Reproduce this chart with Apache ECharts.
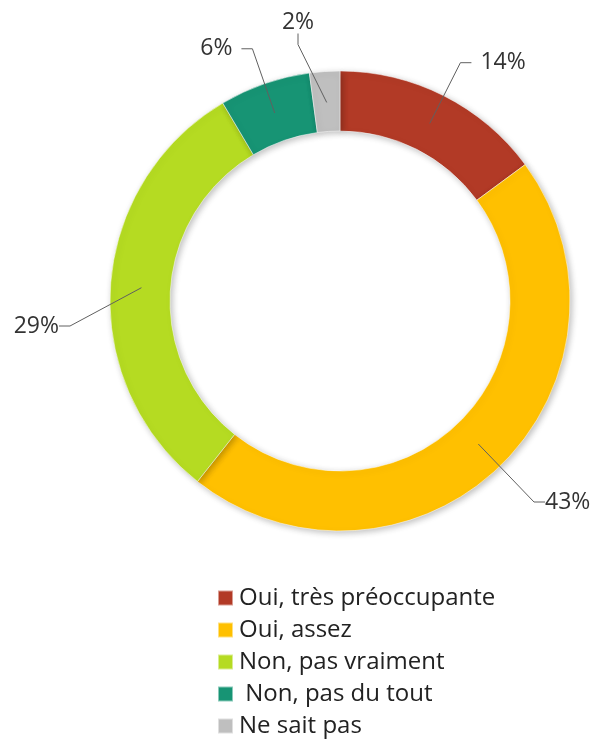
<!DOCTYPE html>
<html>
<head>
<meta charset="utf-8">
<script src="https://cdn.jsdelivr.net/npm/echarts@6/dist/echarts.min.js"></script>
<style>
  html, body { margin: 0; padding: 0; background: #fff; }
  #chart { width: 595px; height: 740px; }
</style>
</head>
<body>
<div id="chart"></div>
<script>
// answers, in chart order (clockwise from the top)
const categories = ['Oui, très préoccupante', 'Oui, assez', 'Non, pas vraiment', ' Non, pas du tout', 'Ne sait pas']
const values = [14, 43, 29, 6, 2]
const colors = ['#B23A26', '#FFC000', '#B5DB22', '#179474', '#BFBFBF']

const chart = echarts.init(document.getElementById('chart'))

const ringData = categories.map(function (name, i) {
  return { name: name, value: values[i], itemStyle: { color: colors[i] } }
})

chart.setOption({
  backgroundColor: '#fff',
  animation: false,
  textStyle: {
    fontFamily: 'Open Sans'
  },
  legend: {
    orient: 'vertical',
    left: 217,
    top: 586,
    height: 160,
    padding: 0,
    itemWidth: 15,
    itemHeight: 15,
    itemGap: 8,
    icon: 'rect',
    data: categories,
    textStyle: {
      fontFamily: 'Open Sans',
      fontSize: 24,
      lineHeight: 24,
      color: '#222',
      padding: [0, 0, 0, 1]
    }
  },
  series: [
    {
      // visible ring
      type: 'pie',
      center: [340, 301],
      radius: [170, 230],
      startAngle: 90,
      clockwise: true,
      silent: true,
      z: 2,
      label: { show: false },
      labelLine: { show: false },
      itemStyle: {
        borderColor: 'rgba(255,255,255,0.5)',
        borderWidth: 1,
        shadowBlur: 6,
        shadowColor: 'rgba(0,0,0,0.25)',
        shadowOffsetX: 2,
        shadowOffsetY: 2
      },
      data: ringData
    },
    {
      // transparent helper ring so label lines start in the middle of the band
      type: 'pie',
      center: [340, 301],
      radius: [0, 199],
      startAngle: 90,
      clockwise: true,
      silent: true,
      z: 5,
      avoidLabelOverlap: false,
      itemStyle: { color: 'rgba(0,0,0,0)' },
      label: {
        show: true,
        position: 'outside',
        formatter: function (p) { return p.value + '%' },
        fontFamily: 'Open Sans',
        fontSize: 23,
        color: '#333',
        distanceToLabelLine: 9
      },
      labelLine: {
        show: true,
        length: 68,
        length2: 11,
        lineStyle: { color: '#606060', width: 1 }
      },
      labelLayout: function (p) {
        if (p.dataIndex === 1) {
          return { x: 545, y: 502, align: 'left', verticalAlign: 'middle' }
        }
        if (p.dataIndex === 2) {
          return { x: 59, y: 326, align: 'right', verticalAlign: 'middle' }
        }
        if (p.dataIndex === 4) {
          return { x: 298, y: 22, align: 'center', verticalAlign: 'middle' }
        }
        return {}
      },
      data: categories.map(function (name, i) {
        return { name: name, value: values[i] }
      })
    }
  ]
})
</script>
</body>
</html>
